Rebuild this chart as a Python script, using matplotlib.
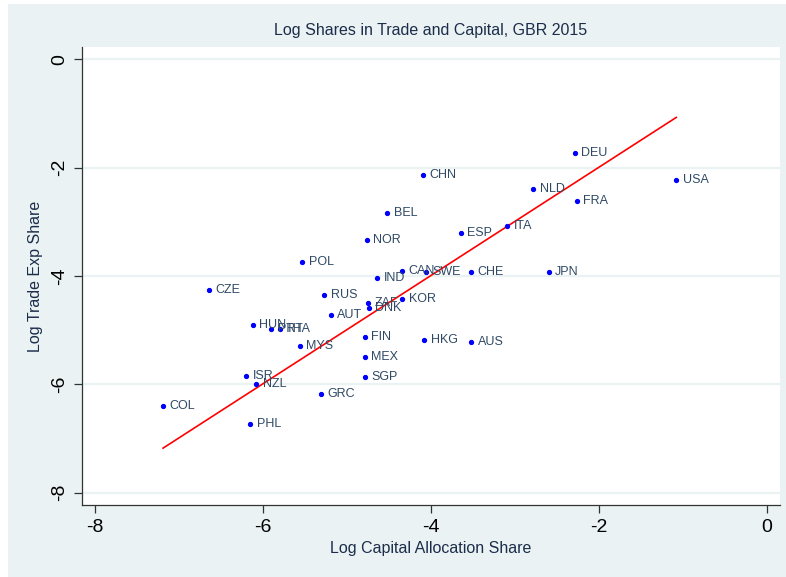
import numpy as np
import matplotlib
matplotlib.use("Agg")
import matplotlib.pyplot as plt
from matplotlib.patches import Rectangle

plt.rcParams['font.family'] = ['Liberation Sans', 'DejaVu Sans']

countries = ["DEU", "USA", "CHN", "NLD", "FRA", "BEL", "ITA", "ESP", "NOR", "POL",
             "CAN", "SWE", "CHE", "JPN", "IND", "CZE", "RUS", "ZAF", "KOR", "DNK",
             "AUT", "HUN", "PRT", "THA", "MYS", "FIN", "HKG", "AUS", "MEX", "SGP",
             "ISR", "NZL", "GRC", "COL", "PHL"]
cap_share = [-2.29, -1.08, -4.09, -2.78, -2.26, -4.52, -3.09, -3.64, -4.76, -5.53,
             -4.34, -4.06, -3.52, -2.60, -4.64, -6.64, -5.27, -4.75, -4.34, -4.74,
             -5.19, -6.12, -5.90, -5.80, -5.56, -4.79, -4.08, -3.52, -4.79, -4.78,
             -6.20, -6.08, -5.31, -7.19, -6.15]
trade_share = [-1.72, -2.22, -2.13, -2.40, -2.62, -2.83, -3.07, -3.20, -3.34, -3.75,
               -3.90, -3.92, -3.93, -3.93, -4.04, -4.25, -4.36, -4.49, -4.43, -4.60,
               -4.72, -4.90, -4.98, -4.97, -5.30, -5.13, -5.19, -5.21, -5.50, -5.87,
               -5.84, -5.99, -6.18, -6.40, -6.73]

# fitted line
fit_intercept = 0.01
fit_slope = 1.0

bg = '#eaf2f3'
navy = '#1c2d4a'

fig = plt.figure(figsize=(7.86, 5.77), dpi=100)
fig.patches.append(Rectangle((8 / 786, 0), 1 - 8 / 786, 573 / 577,
                             transform=fig.transFigure, facecolor=bg,
                             edgecolor='none', zorder=-10))
ax = fig.add_axes([0.1043, 0.1248, 0.8881, 0.7937])
ax.set_facecolor('white')

x = np.array(cap_share)
y = np.array(trade_share)
ax.plot(x, y, 'o', color='#0000ff', markersize=2.8, zorder=3)
for name, xi, yi in zip(countries, x, y):
    ax.annotate(name, (xi, yi), xytext=(4.5, 0), textcoords='offset points',
                va='center', ha='left', fontsize=9, color='#2f4964', zorder=4)

xs = np.array([x.min(), x.max()])
ax.plot(xs, fit_intercept + fit_slope * xs, color='red', lw=1.2, zorder=2)

ax.set_xlim(-8.155, 0.155)
ax.set_ylim(-8.23, 0.23)
ax.set_xticks([-8, -6, -4, -2, 0])
ax.set_yticks([-8, -6, -4, -2, 0])
ax.set_xticklabels(['-8', '-6', '-4', '-2', '0'])
ax.set_yticklabels(['-8', '-6', '-4', '-2', '0'], rotation=90, va='center')
ax.tick_params(labelsize=14, length=6, width=0.9, color='#333333', pad=4)
ax.grid(axis='y', color=bg, lw=1.6)
ax.set_axisbelow(True)
for s in ['top', 'right']:
    ax.spines[s].set_visible(False)
for s in ['left', 'bottom']:
    ax.spines[s].set_color('#333333')
    ax.spines[s].set_linewidth(0.9)

ax.set_title("Log Shares in Trade and Capital, GBR 2015", fontsize=11.5, color=navy, pad=9)
ax.set_xlabel("Log Capital Allocation Share", fontsize=11.5, color=navy, labelpad=4)
ax.set_ylabel("Log Trade Exp Share", fontsize=11.5, color=navy, labelpad=6)

fig.savefig("out.png", dpi=100, facecolor='white')
